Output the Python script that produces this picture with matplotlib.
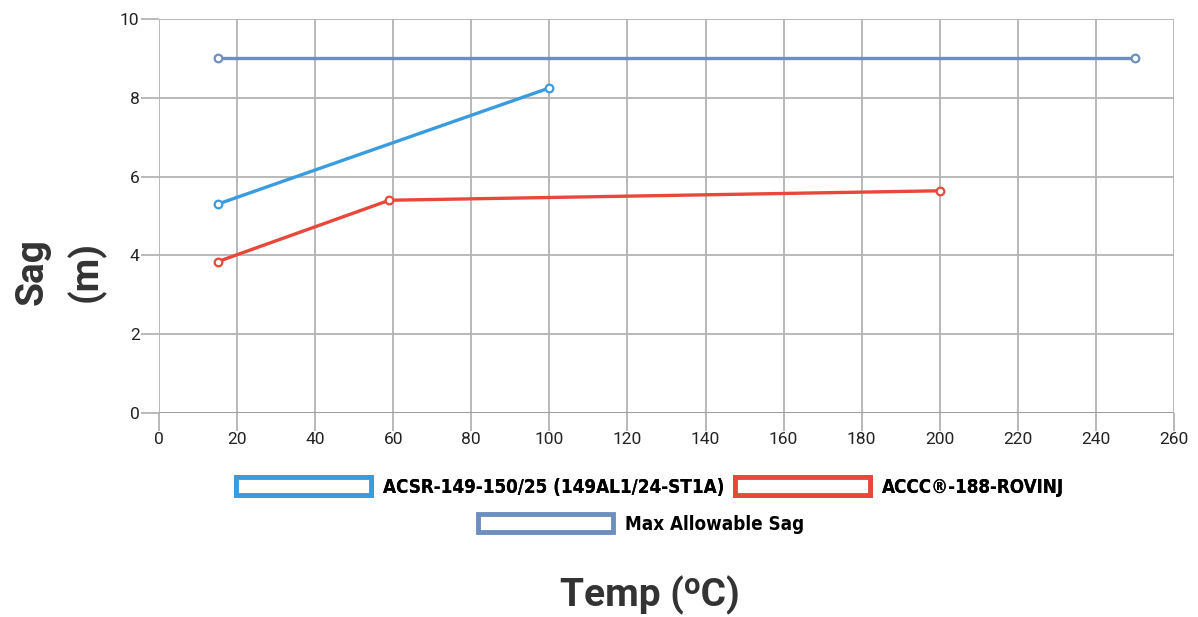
import matplotlib.pyplot as plt
from matplotlib.patches import Patch
from matplotlib import font_manager

plt.rcParams['font.family'] = ['Roboto', 'DejaVu Sans']

# data
acsr_temp = [15, 100]
acsr_sag = [5.3, 8.25]
accc_temp = [15, 59, 200]
accc_sag = [3.84, 5.4, 5.64]
max_temp = [15, 250]
max_sag = [9.0, 9.0]

series = [
    ("ACSR-149-150/25 (149AL1/24-ST1A)", acsr_temp, acsr_sag, "#3a9ce0"),
    ("ACCC®-188-ROVINJ", accc_temp, accc_sag, "#e8473b"),
    ("Max Allowable Sag", max_temp, max_sag, "#6d8fc0"),
]

names = {f.name for f in font_manager.fontManager.ttflist}
print(sorted(n for n in names if "Narrow" in n or "Condensed" in n))

fig = plt.figure(figsize=(11.98, 6.17), dpi=100)
ax = fig.add_axes([159 / 1198, 1 - 413 / 617, (1174 - 159) / 1198, (413 - 19) / 617])

for label, xs, ys, c in series:
    ax.plot(xs, ys, color=c, lw=2.4, marker="o", ms=5.5, mfc="white",
            mec=c, mew=1.6, zorder=3)

ax.set_xlim(0, 260)
ax.set_ylim(0, 10)
ax.set_xticks(range(0, 261, 20))
ax.set_yticks(range(0, 11, 2))
ax.grid(True, color="#b3b3b3", lw=1.3)
for s in ax.spines.values():
    s.set_visible(False)
ax.axhline(0, color="#999999", lw=1.3, zorder=2)
ax.tick_params(length=13, width=1.3, color="#b3b3b3", labelsize=12.5,
               labelcolor="#222222", pad=1)

fig.text(60 / 1198, 1 - 272 / 617, "Sag\n(m)", rotation=90, ha="center",
         va="center", fontsize=28, fontweight="bold", color="#333333",
         linespacing=1.5)
fig.text(650 / 1198, 1 - 595 / 617, "Temp (ᵒC)", ha="center", va="center",
         fontsize=28, fontweight="bold", color="#333333")

handles = [Patch(facecolor="white", edgecolor=c, lw=3.5) for _, _, _, c in series]
labels = [s[0] for s in series]
lfont = {"family": ["Liberation Sans Narrow", "DejaVu Sans"],
         "weight": "bold", "size": 13.5, "stretch": "condensed"}
leg1 = fig.legend(handles[:2], labels[:2], ncol=2, loc="center",
                  bbox_to_anchor=(650 / 1198, 1 - 487 / 617), frameon=False,
                  prop=lfont, handlelength=7.2, handleheight=1.1,
                  columnspacing=0.6, handletextpad=0.6)
fig.add_artist(leg1)
fig.legend(handles[2:], labels[2:], loc="center",
           bbox_to_anchor=(641 / 1198, 1 - 524 / 617), frameon=False,
           prop=lfont, handlelength=7.2, handleheight=1.1, handletextpad=0.6)

fig.savefig("out.png", dpi=100)
